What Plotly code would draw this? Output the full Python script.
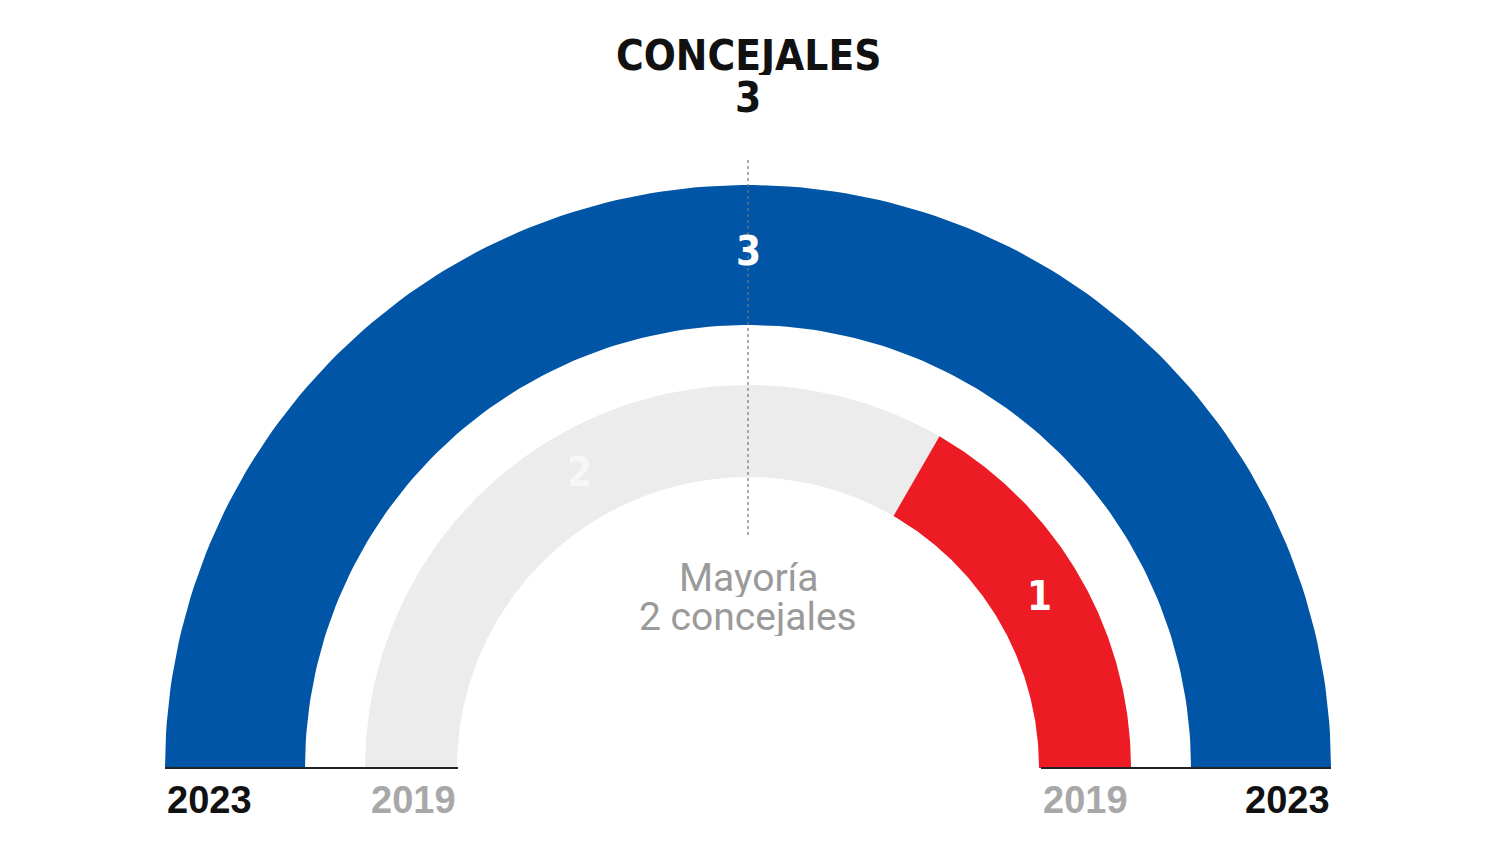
import numpy as np
import plotly.graph_objects as go

# ---- data ----
title_text = "CONCEJALES"
total_seats = 3
majority = 2
rings = ["2023", "2019"]
parties_2023 = ["PP"]
seats_2023 = [3]
colors_2023 = ["#0055a6"]
label_colors_2023 = ["#ffffff"]
parties_2019 = ["Otros", "PSOE"]
seats_2019 = [2, 1]
colors_2019 = ["#ececec", "#ed1c24"]
label_colors_2019 = ["#f7f7f7", "#ffffff"]

# ---- geometry (pixel space) ----
CX, CY = 748, 768
ring_radii = {"2023": (443, 583), "2019": (291, 383)}

fig = go.Figure()

def add_ring(seats, colors, lcolors, r_in, r_out):
    total = sum(seats)
    start = 0.0
    for s, c, lc in zip(seats, colors, lcolors):
        a0 = np.pi - np.pi * start / total
        a1 = np.pi - np.pi * (start + s) / total
        t = np.linspace(a0, a1, 160)
        xs = np.concatenate([CX + r_out * np.cos(t), CX + r_in * np.cos(t[::-1])])
        ys = np.concatenate([CY - r_out * np.sin(t), CY - r_in * np.sin(t[::-1])])
        fig.add_trace(go.Scatter(x=xs, y=ys, fill="toself", fillcolor=c, mode="lines",
                                 line=dict(width=0, color=c), hoverinfo="skip", showlegend=False))
        am = (a0 + a1) / 2
        rm = (r_in + r_out) / 2
        fig.add_annotation(x=CX + rm * np.cos(am), y=CY - rm * np.sin(am) - 4, text=f"<b>{s}</b>",
                           showarrow=False,
                           font=dict(family="DejaVu Sans Condensed", size=40, color=lc))
        start += s

add_ring(seats_2023, colors_2023, label_colors_2023, *ring_radii["2023"])
add_ring(seats_2019, colors_2019, label_colors_2019, *ring_radii["2019"])

# baseline lines
fig.add_trace(go.Scatter(x=[CX - 583, CX - 290], y=[CY, CY], mode="lines",
                         line=dict(color="#222222", width=2), hoverinfo="skip", showlegend=False))
fig.add_trace(go.Scatter(x=[CX + 293, CX + 583], y=[CY, CY], mode="lines",
                         line=dict(color="#222222", width=2), hoverinfo="skip", showlegend=False))

# majority dotted line
fig.add_trace(go.Scatter(x=[CX, CX], y=[160, 535], mode="lines",
                         line=dict(color="#777777", width=1.2, dash="dot"),
                         hoverinfo="skip", showlegend=False))

# year labels
yl = 800
yfont = "Liberation Sans"
fig.add_annotation(x=CX - 583, y=yl, text="<b>2023</b>", xanchor="left", showarrow=False,
                   font=dict(family=yfont, size=38, color="#111111"))
fig.add_annotation(x=CX - 290, y=yl, text="<b>2019</b>", xanchor="right", showarrow=False,
                   font=dict(family=yfont, size=38, color="#a8a8a8"))
fig.add_annotation(x=CX + 293, y=yl, text="<b>2019</b>", xanchor="left", showarrow=False,
                   font=dict(family=yfont, size=38, color="#a8a8a8"))
fig.add_annotation(x=CX + 584, y=yl, text="<b>2023</b>", xanchor="right", showarrow=False,
                   font=dict(family=yfont, size=38, color="#111111"))

# title
fig.add_annotation(x=CX, y=55, text=f"<b>{title_text}</b>", showarrow=False, height=40,
                   font=dict(family="DejaVu Sans Condensed", size=42, color="#111111"))
fig.add_annotation(x=CX, y=97, text=f"<b>{total_seats}</b>", showarrow=False, height=40,
                   font=dict(family="DejaVu Sans Condensed", size=42, color="#111111"))

# majority label
fig.add_annotation(x=CX, y=578, text="Mayoría", showarrow=False, height=38,
                   font=dict(family="Roboto", size=39, color="#9a9a9a"))
fig.add_annotation(x=CX, y=617, text=f"{majority} concejales", showarrow=False, height=38,
                   font=dict(family="Roboto", size=39, color="#9a9a9a"))

fig.update_xaxes(range=[0, 1500], visible=False, fixedrange=True)
fig.update_yaxes(range=[844, 0], visible=False, fixedrange=True)
fig.update_layout(width=1500, height=844, margin=dict(l=0, r=0, t=0, b=0),
                  paper_bgcolor="white", plot_bgcolor="white", showlegend=False)

fig.write_html("out.html")
